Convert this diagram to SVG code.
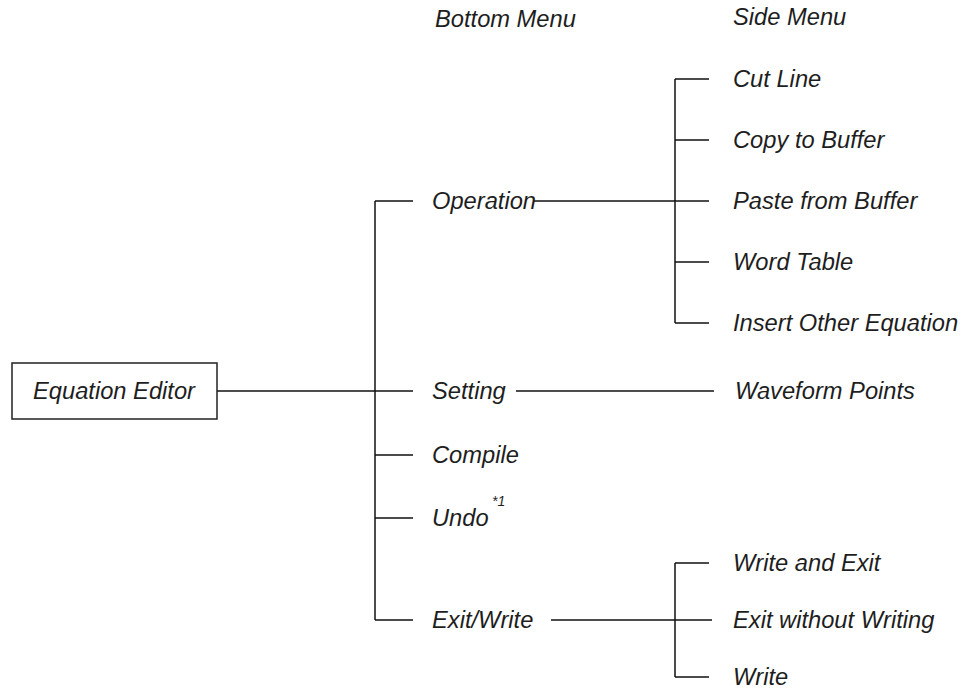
<svg xmlns="http://www.w3.org/2000/svg" width="968" height="691" viewBox="0 0 968 691">
<style>
text{font-family:"Liberation Sans",Arial,sans-serif;font-style:italic;font-size:23.7px;fill:#1e1e1e}
.sup{font-size:14px}
.ln{stroke:#111;stroke-width:1.5;fill:none}
.box{stroke:#222;stroke-width:1.5;fill:#fff}
</style>
<rect width="968" height="691" fill="#fff"/>
<g id="headers">
<text x="435" y="27">Bottom Menu</text>
<text x="733" y="25">Side Menu</text>
</g>
<g id="connectors">
<path class="ln" d="M217 391H413"/>
<path class="ln" d="M375 201V620"/>
<path class="ln" d="M375 201H413M375 455H413M375 518H413M375 620H413"/>
<path class="ln" d="M534 201H709"/>
<path class="ln" d="M675 79V323"/>
<path class="ln" d="M675 79H709M675 140H709M675 262H709M675 323H709"/>
<path class="ln" d="M516 391H714"/>
<path class="ln" d="M551 620H712"/>
<path class="ln" d="M675 563V677"/>
<path class="ln" d="M675 563H709M675 677H709"/>
</g>
<g id="equation-editor">
<rect class="box" x="12" y="363" width="205" height="56"/>
<text x="33" y="399">Equation Editor</text>
</g>
<g id="operation"><text x="432" y="209">Operation</text></g>
<g id="setting"><text x="432" y="399">Setting</text></g>
<g id="compile"><text x="432" y="463">Compile</text></g>
<g id="undo"><text x="432" y="526">Undo</text><text class="sup" x="492" y="506">*1</text></g>
<g id="exit-write"><text x="432" y="628">Exit/Write</text></g>
<g id="cut-line"><text x="733" y="87">Cut Line</text></g>
<g id="copy-to-buffer"><text x="733" y="148">Copy to Buffer</text></g>
<g id="paste-from-buffer"><text x="733" y="209">Paste from Buffer</text></g>
<g id="word-table"><text x="733" y="270">Word Table</text></g>
<g id="insert-other-equation"><text x="733" y="331">Insert Other Equation</text></g>
<g id="waveform-points"><text x="735" y="399">Waveform Points</text></g>
<g id="write-and-exit"><text x="733" y="571">Write and Exit</text></g>
<g id="exit-without-writing"><text x="733" y="628">Exit without Writing</text></g>
<g id="write"><text x="733" y="685">Write</text></g>
</svg>
